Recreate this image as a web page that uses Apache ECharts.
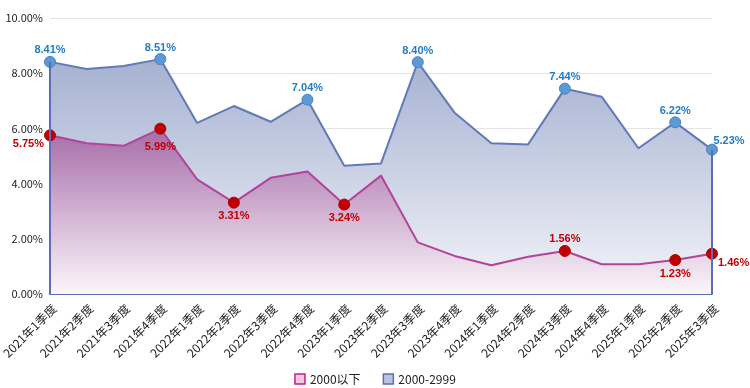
<!DOCTYPE html>
<html><head><meta charset="utf-8">
<script src="https://cdn.jsdelivr.net/npm/echarts@6/dist/echarts.min.js"></script>
<style>html,body{margin:0;padding:0;background:#fff}#c{width:750px;height:388px}</style>
</head><body><div id="c"></div>
<script>
const categories = ['2021年1季度','2021年2季度','2021年3季度','2021年4季度','2022年1季度','2022年2季度','2022年3季度','2022年4季度','2023年1季度','2023年2季度','2023年3季度','2023年4季度','2024年1季度','2024年2季度','2024年3季度','2024年4季度','2025年1季度','2025年2季度','2025年3季度'];
const seriesNames = ['2000以下','2000-2999'];
const low = [5.75,5.46,5.37,5.99,4.15,3.31,4.21,4.44,3.24,4.29,1.87,1.38,1.04,1.35,1.56,1.08,1.08,1.23,1.46];
const mid = [8.41,8.15,8.26,8.51,6.20,6.81,6.24,7.04,4.65,4.73,8.40,6.57,5.46,5.42,7.44,7.15,5.28,6.22,5.23];
const lowMarked = {0:'left',3:'bottom',5:'bottom',8:'bottom',14:'top',17:'bottom',18:'right'};
const midMarked = {0:'top',3:'top',7:'top',10:'top',14:'top',17:'top',18:'top'};
const yTicks = [0,2,4,6,8,10];

function build(vals, marked, color, stroke, labelColor){
  return vals.map((v,i)=>{
    if(marked[i]===undefined) return {value:v, symbol:'none'};
    const pos = marked[i];
    const lbl = {show:true, position:pos, formatter:v.toFixed(2)+'%', color:labelColor, fontWeight:'bold', fontSize:11, fontFamily:'Liberation Sans', distance:0};
    if(pos==='bottom'){ lbl.distance = 2; }
    if(pos==='top' && i===vals.length-1){ lbl.offset=[17,3]; }
    if(pos==='left' || pos==='right'){ lbl.offset=[0,9]; }
    return {value:v, symbol:'circle', symbolSize:11, itemStyle:{color:color, borderColor:stroke, borderWidth:1}, label:lbl};
  });
}
const lowData = build(low,lowMarked,'#c00000','#b00000','#c00000');
lowData[3].label.offset = [0,5];
const chart = echarts.init(document.getElementById('c'));
const last = categories.length-1;
chart.setOption({
  animation:false,
  grid:{left:50,right:38,top:18,bottom:94,containLabel:false,outerBoundsMode:'none'},
  legend:{bottom:-2,itemWidth:10,itemHeight:10,itemGap:22,icon:'rect',data:[
    {name:seriesNames[0],itemStyle:{color:'#f4c6e2',borderColor:'#c0208a',borderWidth:1.5}},
    {name:seriesNames[1],itemStyle:{color:'#b8c4e0',borderColor:'#5a70b0',borderWidth:1.5}}],
    textStyle:{fontSize:12,color:'#222',fontFamily:'Noto Sans CJK SC'}},
  xAxis:{type:'category',data:categories,boundaryGap:false,
    axisLine:{lineStyle:{color:'#5a6fb5',width:2}},axisTick:{show:false},
    axisLabel:{rotate:45,fontSize:12,color:'#222',margin:8,verticalAlign:'top',fontFamily:'Noto Sans CJK SC',interval:0}},
  yAxis:{type:'value',min:yTicks[0],max:yTicks[yTicks.length-1],interval:2,
    axisLine:{show:false},axisTick:{show:false},
    splitLine:{lineStyle:{color:'#e4e4e4'}},
    axisLabel:{formatter:v=>v.toFixed(2)+'%',fontSize:11,color:'#222',margin:7,fontFamily:'Noto Sans CJK SC'}},
  series:[
    {name:seriesNames[1],type:'line',data:build(mid,midMarked,'#5b9bd5','#4a7fc0','#1f7cc8'),
     lineStyle:{color:'#6279b8',width:2},itemStyle:{color:'#b8c4e0'},z:2,
     areaStyle:{opacity:1,color:new echarts.graphic.LinearGradient(0,0,0,1,[{offset:0,color:'#a5b1d1'},{offset:1,color:'#f4f5fa'}])},
     markLine:{symbol:'none',silent:true,label:{show:false},lineStyle:{color:'#5a6fb5',width:2,type:'solid'},
       data:[[{coord:[0,0]},{coord:[0,mid[0]]}],[{coord:[last,0]},{coord:[last,mid[last]]}]]}},
    {name:seriesNames[0],type:'line',data:lowData,
     lineStyle:{color:'#b0449a',width:2},itemStyle:{color:'#f4c6e2'},z:3,
     areaStyle:{opacity:1,color:new echarts.graphic.LinearGradient(0,0,0,1,[{offset:0,color:'#a66ca9'},{offset:1,color:'#fbf6fa'}])}}
  ]
});
</script></body></html>
